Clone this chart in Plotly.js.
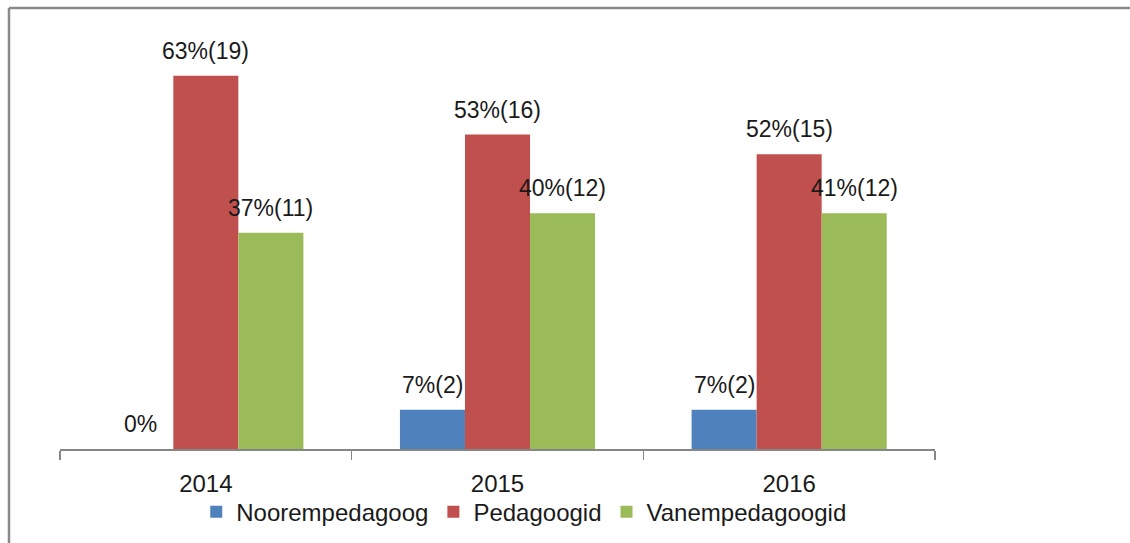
<!DOCTYPE html>
<html>
<head>
<meta charset="utf-8">
<script src="https://cdn.plot.ly/plotly-3.0.1.min.js"></script>
<style>
html,body{margin:0;padding:0;background:#fff;}
#chart{width:1130px;height:543px;}
</style>
</head>
<body>
<div id="chart"></div>
<script>
const years = ["2014", "2015", "2016"];
const seriesNames = ["Noorempedagoog", "Pedagoogid", "Vanempedagoogid"];
const counts = {
  "Noorempedagoog": [0, 2, 2],
  "Pedagoogid": [19, 16, 15],
  "Vanempedagoogid": [11, 12, 12]
};
const labels = {
  "Noorempedagoog": ["0%", "7%(2)", "7%(2)"],
  "Pedagoogid": ["63%(19)", "53%(16)", "52%(15)"],
  "Vanempedagoogid": ["37%(11)", "40%(12)", "41%(12)"]
};
const colors = ["#4F81BD", "#C0504D", "#9BBB59"];

const FONT = "Liberation Sans, Arial, sans-serif";
const TXT = "#1a1a1a";

const traces = seriesNames.map((name, i) => ({
  type: "bar",
  name: name,
  x: years,
  y: counts[name],
  marker: {color: colors[i], line: {width: 0}},
  hoverinfo: "skip"
}));

// category axes take annotation x as the category's index
const annotations = [];
seriesNames.forEach((name, i) => {
  years.forEach((yr, j) => {
    annotations.push({
      x: years.indexOf(yr), y: counts[name][j], xref: "x", yref: "y",
      text: labels[name][j], showarrow: false,
      xshift: (i - 1) * 65, yanchor: "bottom", yshift: 10,
      font: {family: FONT, size: 23, color: TXT}
    });
  });
});

const layout = {
  width: 1130, height: 543,
  margin: {l: 60, r: 195, t: 56, b: 94, pad: 0},
  paper_bgcolor: "#ffffff", plot_bgcolor: "#ffffff",
  barmode: "group", bargap: 0.331, bargroupgap: 0,
  showlegend: true,
  legend: {
    orientation: "h", x: 0.53, xanchor: "center",
    yref: "container", y: 0.057, yanchor: "middle",
    font: {family: FONT, size: 24, color: TXT}, traceorder: "normal",
    itemwidth: 30, bgcolor: "rgba(0,0,0,0)"
  },
  xaxis: {
    type: "category", range: [-0.5, 2.5], automargin: false,
    showline: true, linecolor: "#868686", linewidth: 1.5,
    ticks: "outside", tickson: "boundaries", ticklen: 9, tickwidth: 1.5, tickcolor: "#868686",
    ticklabelstandoff: 13,
    tickfont: {family: FONT, size: 24, color: TXT},
    showgrid: false, zeroline: false, fixedrange: true
  },
  yaxis: {
    range: [0, 20], visible: false, showgrid: false, zeroline: false, fixedrange: true
  },
  annotations: annotations,
  shapes: [
    {type: "line", xref: "paper", yref: "paper", x0: -0.0583, x1: 1.3, y0: 1.1224, y1: 1.1224,
     line: {color: "#8a8a8a", width: 2.5}},
    {type: "line", xref: "paper", yref: "paper", x0: -0.0583, x1: -0.0583, y0: 1.1224, y1: -0.3,
     line: {color: "#8a8a8a", width: 2.5}}
  ],
  font: {family: FONT, color: TXT}
};

Plotly.newPlot("chart", traces, layout, {displayModeBar: false, staticPlot: true});
</script>
</body>
</html>
